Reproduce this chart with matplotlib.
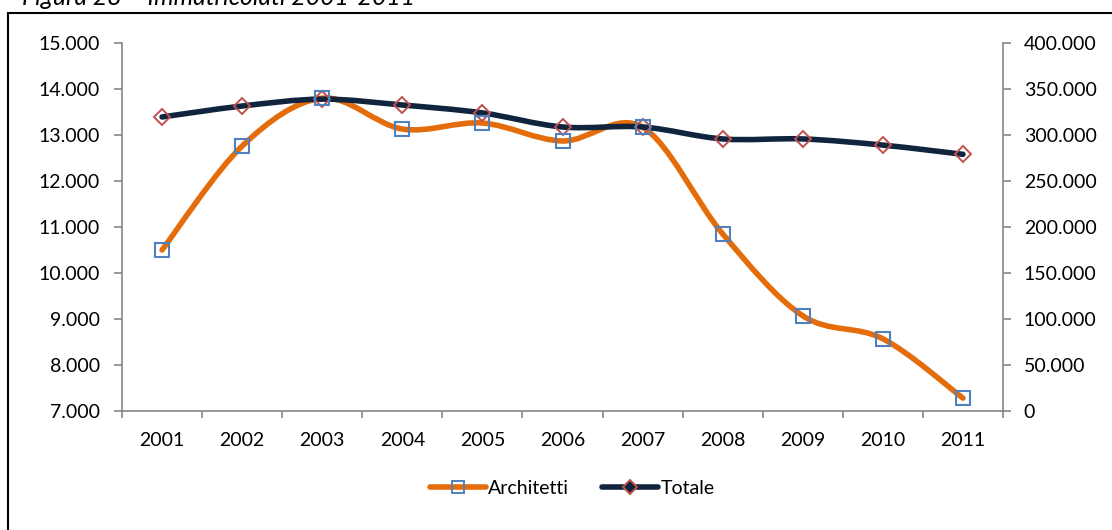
import matplotlib.pyplot as plt
from matplotlib.path import Path
from matplotlib.patches import PathPatch, Rectangle
from matplotlib.lines import Line2D
import numpy as np

plt.rcParams['font.family'] = ['Lato', 'DejaVu Sans']

# data
anni = ['2001', '2002', '2003', '2004', '2005', '2006', '2007', '2008', '2009', '2010', '2011']
architetti = [10500, 12760, 13800, 13130, 13260, 12870, 13170, 10850, 9070, 8570, 7280]
totale = [319600, 331500, 339000, 332600, 324000, 308700, 308700, 295700, 295700, 289000, 279000]

orange = '#E46C0A'
navy = '#10243E'
blue = '#4F81BD'
red = '#C0504D'
grey = '#868686'


def smooth_path(x, y):
    # excel-like smoothed line (catmull-rom as cubic bezier)
    pts = np.column_stack([x, y]).astype(float)
    n = len(pts)
    verts = [pts[0]]
    codes = [Path.MOVETO]
    for i in range(n - 1):
        p0 = pts[i - 1] if i > 0 else pts[i]
        p1 = pts[i]
        p2 = pts[i + 1]
        p3 = pts[i + 2] if i + 2 < n else pts[i + 1]
        verts += [p1 + (p2 - p0) / 6, p2 - (p3 - p1) / 6, p2]
        codes += [Path.CURVE4] * 3
    return Path(verts, codes)


fig = plt.figure(figsize=(11.12, 5.30), dpi=100)
ax = fig.add_axes([122 / 1112, 1 - 411 / 530, (1003 - 122) / 1112, (411 - 43) / 530])
ax2 = ax.twinx()

x = np.arange(len(anni))

ax.add_patch(PathPatch(smooth_path(x, architetti), fill=False, edgecolor=orange,
                       lw=4.0, capstyle='round', joinstyle='round'))
ax2.add_patch(PathPatch(smooth_path(x, totale), fill=False, edgecolor=navy,
                        lw=4.0, capstyle='round', joinstyle='round'))
ax2.plot(x, totale, ls='none', marker='D', ms=8, mfc='none', mec=red, mew=1.4)
# squares drawn on top of the navy line, still on the left scale
ax2.plot(x, architetti, ls='none', marker='s', ms=10, mfc='none', mec=blue, mew=1.5,
         transform=ax.transData)

ax.set_xlim(-0.5, len(anni) - 0.5)
ax.set_ylim(7000, 15000)
ax2.set_ylim(0, 400000)

ax.set_yticks(np.arange(7000, 15001, 1000))
ax.set_yticklabels([f'{v:,}'.replace(',', '.') for v in range(7000, 15001, 1000)])
ax2.set_yticks(np.arange(0, 400001, 50000))
ax2.set_yticklabels(['0'] + [f'{v:,}'.replace(',', '.') for v in range(50000, 400001, 50000)])

ax.set_xticks(x)
ax.set_xticklabels(anni)
ax.set_xticks(np.arange(-0.5, len(anni), 1), minor=True)
ax.tick_params(axis='x', which='major', length=0, pad=15, labelsize=14)
ax.tick_params(axis='x', which='minor', length=5, color=grey, direction='out', width=1.2)
ax.tick_params(axis='y', length=6, color=grey, labelsize=14, pad=10, width=1.2)
ax2.tick_params(axis='y', length=6, color=grey, labelsize=14, pad=9, width=1.2)

for a in (ax, ax2):
    a.spines['top'].set_visible(False)
    for s in ('left', 'right', 'bottom'):
        a.spines[s].set_color(grey)
        a.spines[s].set_linewidth(1.2)
ax.spines['right'].set_visible(False)
ax2.spines['left'].set_visible(False)
ax2.spines['bottom'].set_visible(False)

handles = [
    Line2D([], [], color=orange, lw=4.0, solid_capstyle='round', marker='s', ms=8,
           mfc='none', mec=blue, mew=1.4),
    Line2D([], [], color=navy, lw=4.0, solid_capstyle='round', marker='D', ms=7,
           mfc=navy, mec=red, mew=1.4),
]
fig.legend(handles, ['Architetti', 'Totale'], loc='center', bbox_to_anchor=(572 / 1112, 1 - 488 / 530),
           ncol=2, frameon=False, fontsize=14, handlelength=2.9, handletextpad=0.1,
           columnspacing=1.7)

# outer chart border and the caption above it (cut off at the top, as in the source)
fig.patches.append(Rectangle((8 / 1112, -0.01), 1.0, 1 - 13 / 530 + 0.01,
                             transform=fig.transFigure, fill=False, ec='black', lw=1.5))
fig.text(22 / 1112, 1 - 5 / 530, 'Figura 28 \u2013 Immatricolati 2001-2011', fontsize=17.8,
         style='italic', va='baseline', ha='left')

fig.savefig('out.png', dpi=100)
